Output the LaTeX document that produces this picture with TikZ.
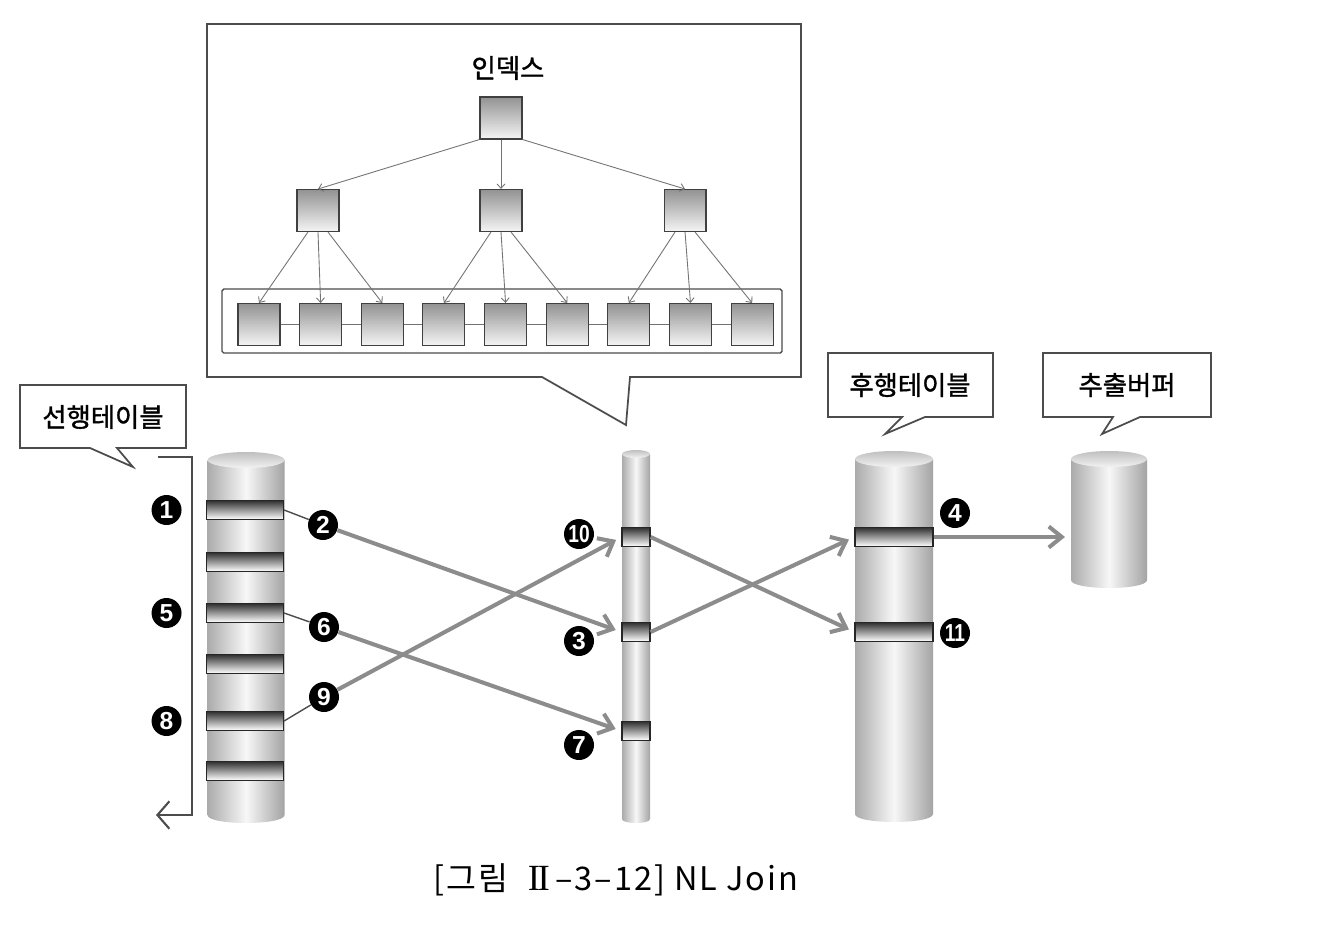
\documentclass[tikz,border=0pt]{standalone}
\usepackage{fontspec}
\usepackage{graphicx}
\setmainfont{Liberation Sans}
\newfontfamily\kr{Noto Sans CJK KR}[FakeBold=1.3]
\newfontfamily\krcap{Noto Sans CJK KR}[LetterSpace=6]
\newfontfamily\romannum{Liberation Serif}
\usetikzlibrary{positioning}
\usetikzlibrary{arrows.meta}
\tikzset{
idxsq/.style={rectangle, draw=black!75, line width=0.6pt, top color=gray!85, bottom color=gray!8, minimum size=0.84cm, inner sep=0pt},
treelink/.style={draw=black!55, line width=0.5pt, -{Straight Barb[length=0.9mm,width=1.6mm]}},
leaflink/.style={draw=black!55, line width=0.8pt},
callout/.style={draw=black!70, line width=1pt, fill=white},
calltext/.style={font=\kr\fontsize{15}{15}\selectfont},
band/.style={rectangle, draw=black!85, line width=0.7pt, top color=black!80, bottom color=white, inner sep=0pt, minimum height=0.37cm},
wideband/.style={band, minimum width=1.54cm},
thinband/.style={band, minimum width=0.56cm},
numdot/.style={circle, fill=black, text=white, inner sep=0pt, minimum size=0.6cm, font=\bfseries\fontsize{14}{14}\selectfont},
tolabel/.style={draw=black!70, line width=0.8pt},
flow/.style={draw=black!45, line width=2.3pt, -{Straight Barb[length=2.6mm,width=4.2mm]}, shorten >=1.2mm},
scanline/.style={draw=black!70, line width=1.2pt, -{Straight Barb[length=2.4mm,width=5.5mm]}},
cylbody/.style={left color=black!33, right color=black!36, middle color=black!3},
cyltop/.style={top color=black!25, bottom color=black!5}
}
\def \twodig#1{\scalebox{0.78}[1]{#1}}
\def \twoI{{\romannum\fontsize{21}{21}\selectfont I\kern-0.07em I}}
% centre x, radius x, top y, bottom y, radius y
\def \dbcyl#1#2#3#4#5{%
\path[cylbody] (#1-#2,#3) -- (#1-#2,#4) .. controls (#1-#2,#4+1.33*#5) and (#1+#2,#4+1.33*#5) .. (#1+#2,#4) -- (#1+#2,#3) -- cycle;
\path[cyltop] (#1,#3) ellipse [x radius=#2, y radius=#5];}

\begin{document}
\begin{tikzpicture}[x=0.02cm, y=-0.02cm]
\useasboundingbox (0,0) rectangle (1332,924);

%Index callout
\draw[callout] (207,24) -- (801,24) -- (801,377) -- (630,377) -- (626,425) -- (542,377) -- (207,377) -- cycle;
\node[calltext] (idxlbl) at (508,68) {인덱스};
\draw[draw=black!70, line width=0.8pt, rounded corners=1pt] (222,289) rectangle (782,353);

%Tree nodes
\node[idxsq] (root) at (501,118) {};
\node[idxsq] (mid2) [below=0.99cm of root] {};
\node[idxsq] (mid1) [left=2.8cm of mid2] {};
\node[idxsq] (mid3) [right=2.82cm of mid2] {};
\node[idxsq] (leaf1) at (259,324.5) {};
\node[idxsq] (leaf2) [right=0.372cm of leaf1] {};
\node[idxsq] (leaf3) [right=0.372cm of leaf2] {};
\node[idxsq] (leaf4) [right=0.372cm of leaf3] {};
\node[idxsq] (leaf5) [right=0.372cm of leaf4] {};
\node[idxsq] (leaf6) [right=0.372cm of leaf5] {};
\node[idxsq] (leaf7) [right=0.372cm of leaf6] {};
\node[idxsq] (leaf8) [right=0.372cm of leaf7] {};
\node[idxsq] (leaf9) [right=0.372cm of leaf8] {};

%Tree lines
\draw[treelink] (root.south west) -- (mid1.north);
\draw[treelink] (root.south) -- (mid2.north);
\draw[treelink] (root.south east) -- (mid3.north);
\draw[treelink] (mid1.-115) -- (leaf1.north);
\draw[treelink] (mid1.south) -- (leaf2.north);
\draw[treelink] (mid1.-65) -- (leaf3.north);
\draw[treelink] (mid2.-115) -- (leaf4.north);
\draw[treelink] (mid2.south) -- (leaf5.north);
\draw[treelink] (mid2.-65) -- (leaf6.north);
\draw[treelink] (mid3.-115) -- (leaf7.north);
\draw[treelink] (mid3.south) -- (leaf8.north);
\draw[treelink] (mid3.-65) -- (leaf9.north);
\draw[leaflink] (leaf1) -- (leaf2);
\draw[leaflink] (leaf2) -- (leaf3);
\draw[leaflink] (leaf3) -- (leaf4);
\draw[leaflink] (leaf4) -- (leaf5);
\draw[leaflink] (leaf5) -- (leaf6);
\draw[leaflink] (leaf6) -- (leaf7);
\draw[leaflink] (leaf7) -- (leaf8);
\draw[leaflink] (leaf8) -- (leaf9);

%Tables
\dbcyl{246}{38.5}{460}{815}{8}
\dbcyl{636}{14}{454}{819}{4}
\dbcyl{894}{39}{459}{814}{8}
\dbcyl{1109}{38}{459}{580}{8}

%Rows
\node[wideband] (L1) at (245,510) {};
\node[wideband] (L2) at (245,562) {};
\node[wideband] (L3) at (245,613) {};
\node[wideband] (L4) at (245,664) {};
\node[wideband] (L5) at (245,721) {};
\node[wideband] (L6) at (245,771) {};
\node[thinband] (M1) at (636,537) {};
\node[thinband] (M2) at (636,632) {};
\node[thinband] (M3) at (636,731) {};
\node[wideband, minimum width=1.56cm] (R1) at (894,537) {};
\node[wideband, minimum width=1.56cm] (R2) at (894,632) {};
\coordinate (buf) at (1071,537);

%Steps
\node[numdot] (n1) [left=0.48cm of L1] {1};
\node[numdot] (n5) [left=0.48cm of L3] {5};
\node[numdot] (n8) [left=0.48cm of L5] {8};
\node[numdot] (n2) at (323,525) {2};
\node[numdot] (n6) at (324,627) {6};
\node[numdot] (n9) at (324,697) {9};
\node[numdot] (n10) at (579,534) {\twodig{10}};
\node[numdot] (n3) at (579,641) {3};
\node[numdot] (n7) at (579,745) {7};
\node[numdot] (n4) at (955,513) {4};
\node[numdot] (n11) at (955,633) {\twodig{11}};

%Lines
\draw[tolabel] (L1.east) -- (n2);
\draw[tolabel] (L3.east) -- (n6);
\draw[tolabel] (L5.east) -- (n9);
\draw[flow] (n2) -- (M2.west);
\draw[flow] (n6) -- (M3.west);
\draw[flow] (n9) -- (M1.west);
\draw[flow] (M1.east) -- (R2.west);
\draw[flow] (M2.east) -- (R1.west);
\draw[flow] (R1.east) -- (buf);

%Scan order
\coordinate (brtop) at (158,457);
\coordinate (brend) at (156,815);
\draw[scanline] (brtop) -- (192,457) -- (192,815) -- (brend);

%Callouts
\draw[callout] (20,385) -- (186,385) -- (186,448) -- (117,448) -- (133,467) -- (90,448) -- (20,448) -- cycle;
\node[calltext] (leadlbl) at (103,417) {선행테이블};
\draw[callout] (828,353) -- (993,353) -- (993,417) -- (925,417) -- (885,434) -- (902,417) -- (828,417) -- cycle;
\node[calltext] (innerlbl) at (910,385) {후행테이블};
\draw[callout] (1043,353) -- (1211,353) -- (1211,417) -- (1140,417) -- (1102,434) -- (1113,417) -- (1043,417) -- cycle;
\node[calltext] (buflbl) at (1127,385) {추출버퍼};

%Caption
\node[font=\krcap\fontsize{18.5}{18.5}\selectfont] (caption) at (616,880) {[그림\hspace{0.6em}\twoI\,–3–12] NL Join};
\end{tikzpicture}
\end{document}
